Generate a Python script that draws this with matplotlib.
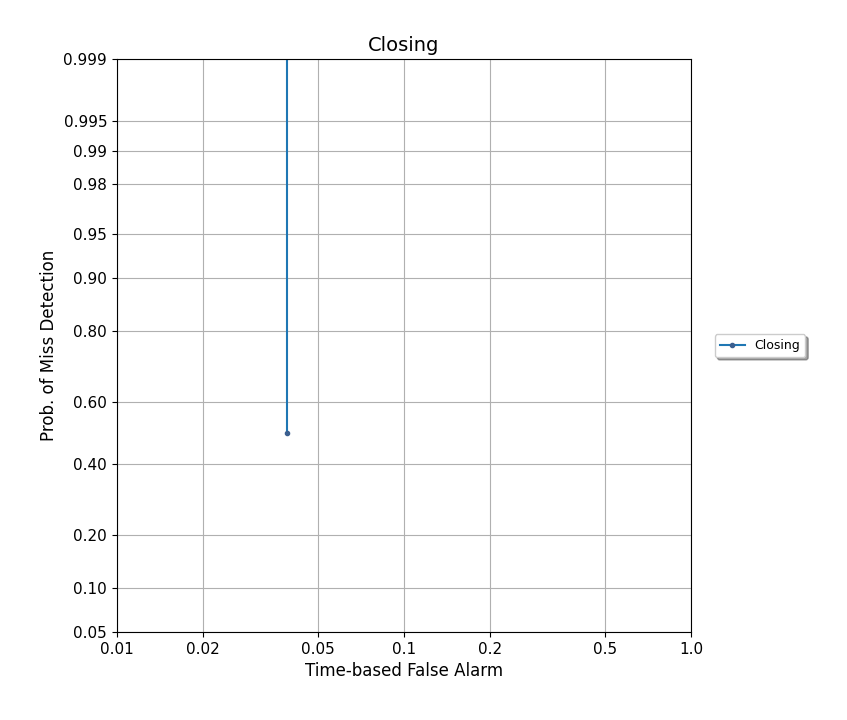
import matplotlib
matplotlib.use("Agg")
import matplotlib.pyplot as plt
from statistics import NormalDist

nd = NormalDist()
ppf = nd.inv_cdf

x_vals = [0.039, 0.039]
y_vals = [0.5, 0.99999]
xticks = [0.01, 0.02, 0.05, 0.1, 0.2, 0.5, 1.0]
xtick_labels = ["0.01", "0.02", "0.05", "0.1", "0.2", "0.5", "1.0"]
yticks = [0.05, 0.10, 0.20, 0.40, 0.60, 0.80, 0.90, 0.95, 0.98, 0.99, 0.995, 0.999]
ytick_labels = ["0.05", "0.10", "0.20", "0.40", "0.60", "0.80", "0.90", "0.95", "0.98", "0.99", "0.995", "0.999"]

fig = plt.figure(figsize=(8.47, 7.2), dpi=100)
ax = fig.add_axes([0.138, 0.122, 0.678, 0.796])
ax.plot(x_vals, [ppf(v) for v in y_vals], marker='.', markevery=[0], color='#1f77b4',
        mec='#3b5f8f', mfc='#3b5f8f', label='Closing')
ax.set_xscale('log')
ax.set_xlim(0.01, 1.0)
ax.set_ylim(ppf(0.05), ppf(0.999))
ax.set_xticks(xticks)
ax.set_xticklabels(xtick_labels, fontsize=11)
ax.minorticks_off()
ax.set_yticks([ppf(v) for v in yticks])
ax.set_yticklabels(ytick_labels, fontsize=11)
ax.grid(True, color='#b0b0b0')
ax.set_xlabel('Time-based False Alarm', fontsize=12)
ax.set_ylabel('Prob. of Miss Detection', fontsize=12)
ax.set_title('Closing', fontsize=14)
ax.legend(loc='center left', bbox_to_anchor=(1.03, 0.5), shadow=True, fontsize=9, fancybox=True)
fig.savefig('out.png', dpi=100)
